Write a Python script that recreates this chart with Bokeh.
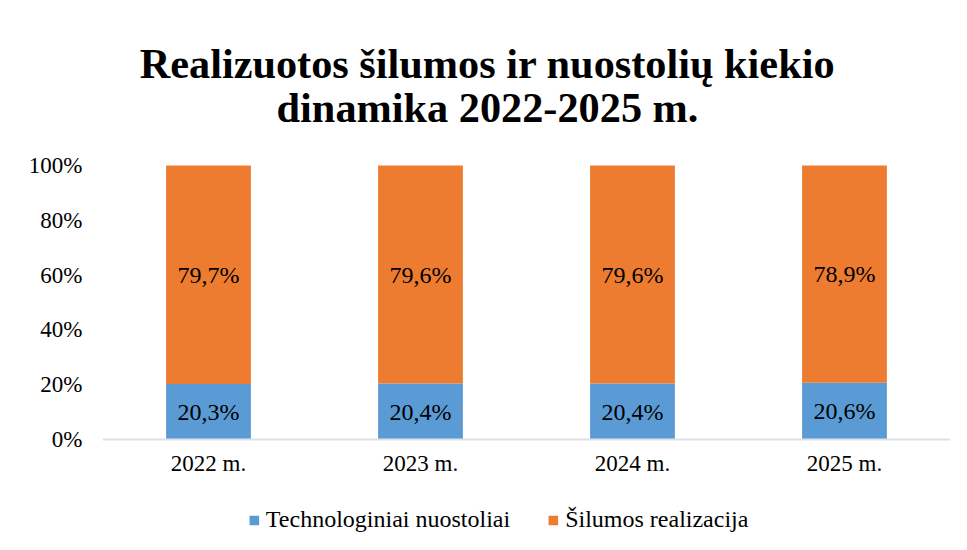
from bokeh.plotting import figure
from bokeh.models import (ColumnDataSource, FactorRange, Range1d, FixedTicker, NumeralTickFormatter,
                          Legend, LegendItem, Label)
from bokeh.core.properties import value
from bokeh.embed import file_html
from bokeh.resources import INLINE

years = ["2022 m.", "2023 m.", "2024 m.", "2025 m."]
losses = [20.3, 20.4, 20.4, 20.6]
sales = [79.7, 79.6, 79.6, 78.9]
series_names = ["Technologiniai nuostoliai", "Šilumos realizacija"]
y_ticks = [0, 0.2, 0.4, 0.6, 0.8, 1.0]
title_lines = ["Realizuotos šilumos ir nuostolių kiekio", "dinamika 2022-2025 m."]

FONT = "Liberation Serif"
BLUE = "#5b9bd5"
ORANGE = "#ed7c31"

tot = [a + b for a, b in zip(losses, sales)]
loss_f = [a / t for a, t in zip(losses, tot)]
sale_f = [b / t for b, t in zip(sales, tot)]
fmt = lambda v: f"{v:.1f}".replace(".", ",") + "%"

src = ColumnDataSource(dict(
    x=years, loss=loss_f, sale=sale_f,
    loss_mid=[f / 2 for f in loss_f],
    sale_mid=[lf + sf / 2 for lf, sf in zip(loss_f, sale_f)],
    loss_lbl=[fmt(v) for v in losses],
    sale_lbl=[fmt(v) for v in sales],
))

# plot frame spans the whole chart height; 0..1 maps to the bar area
PX = 274.0                      # pixels per 100 %
p = figure(x_range=FactorRange(*years, range_padding=0),
           y_range=Range1d(-101 / PX, 1 + 163 / PX),
           width=959, height=542, output_backend="svg", toolbar_location=None,
           min_border_left=102, min_border_right=9, min_border_top=2, min_border_bottom=2)
p.outline_line_color = None
p.grid.grid_line_color = None
p.background_fill_color = "white"
p.border_fill_color = "white"

rs = p.vbar_stack(["loss", "sale"], x="x", width=0.4, source=src,
                  color=[BLUE, ORANGE], line_color=None)

for col, ycol in (("loss_lbl", "loss_mid"), ("sale_lbl", "sale_mid")):
    p.text(x="x", y=ycol, text=col, source=src, text_align="center", text_baseline="middle",
           text_font=value(FONT), text_font_size="24px", text_color="black")

# axes
p.yaxis.ticker = FixedTicker(ticks=y_ticks)
p.yaxis.formatter = NumeralTickFormatter(format="0%")
p.yaxis.axis_line_color = None
p.yaxis.major_tick_out = 0
p.yaxis.major_tick_in = 0
p.yaxis.minor_tick_line_color = None
p.yaxis.major_label_standoff = 20
p.xaxis.fixed_location = 0
p.xaxis.axis_line_color = "#dce1e6"
p.xaxis.axis_line_width = 2
p.xaxis.major_tick_out = 0
p.xaxis.major_tick_in = 0
p.xaxis.minor_tick_line_color = None
p.xaxis.major_label_standoff = 11
for ax in (p.xaxis, p.yaxis):
    ax.major_label_text_font = FONT
    ax.major_label_text_font_size = "23px"
    ax.major_label_text_color = "black"

# title
for line, yy in zip(title_lines, ((439 - 63) / PX, (439 - 107) / PX)):
    p.add_layout(Label(x=(487 - 102) / 212, y=yy, text=line, text_align="center",
                       text_baseline="alphabetic", text_font=FONT, text_font_size="42.3px",
                       text_font_style="bold", text_color="black"))

legend = Legend(items=[LegendItem(label=n, renderers=[r]) for n, r in zip(series_names, rs)],
                orientation="horizontal", location="bottom_center", glyph_width=12, glyph_height=12,
                label_text_font=FONT, label_text_font_size="24px", label_text_color="black",
                label_standoff=6, label_width=239, spacing=37, padding=0, margin=7,
                border_line_color=None, background_fill_alpha=0)
p.add_layout(legend, "center")

open("out.html", "w").write(file_html(p, INLINE))
